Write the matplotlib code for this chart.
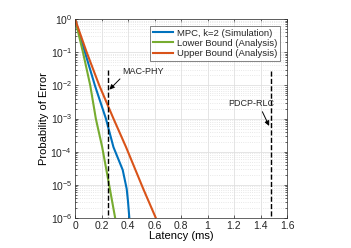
import numpy as np
import matplotlib
matplotlib.use("Agg")
import matplotlib.pyplot as plt
from matplotlib.ticker import LogLocator, NullFormatter

plt.rcParams['font.family'] = ['Liberation Sans', 'DejaVu Sans']
plt.rcParams['mathtext.fontset'] = 'custom'
plt.rcParams['mathtext.rm'] = 'Liberation Sans'
plt.rcParams['mathtext.it'] = 'Liberation Sans:italic'
plt.rcParams['text.color'] = '#262626'

# decades below 1 (probability = 10**-dec) and latency
mpc_dec = [0, 1, 2, 3, 3.86, 4.55, 5.12, 5.5, 6]
mpc_lat = [0, 0.075, 0.15, 0.233, 0.29, 0.36, 0.39, 0.40, 0.41]
low_dec = [0, 1, 2, 3, 3.86, 5.12, 6]
low_lat = [0, 0.06, 0.115, 0.157, 0.205, 0.263, 0.303]
up_dec = [0, 1, 2, 3, 3.86, 5.12, 6]
up_lat = [0, 0.088, 0.183, 0.29, 0.385, 0.515, 0.61]

mac_phy = 0.25
pdcp_rlc = 1.48

blue = '#0072BD'
red = '#D95319'
green = '#77AC30'

fig = plt.figure(figsize=(3.51, 2.48), dpi=100)
ax = fig.add_axes([0.2137, 0.121, 0.604, 0.802])

ax.semilogy(mpc_lat, 10.0 ** -np.array(mpc_dec), color=blue, lw=1.5, label='MPC, k=2 (Simulation)')
ax.semilogy(low_lat, 10.0 ** -np.array(low_dec), color=green, lw=1.5, label='Lower Bound (Analysis)')
ax.semilogy(up_lat, 10.0 ** -np.array(up_dec), color=red, lw=1.5, label='Upper Bound (Analysis)')

ax.plot([mac_phy, mac_phy], [3e-2, 1e-6], 'k--', lw=1)
ax.plot([pdcp_rlc, pdcp_rlc], [2.7e-2, 1e-6], 'k--', lw=1)

ax.annotate('MAC-PHY', xy=(0.26, 7.5e-3), xytext=(0.36, 2.6e-2), fontsize=6.5,
            va='center', ha='left',
            arrowprops=dict(arrowstyle='-|>', color='k', lw=0.7, mutation_scale=7,
                            shrinkA=0, shrinkB=0, relpos=(0, 0)))
ax.annotate('PDCP-RLC', xy=(1.465, 6e-4), xytext=(1.33, 2.9e-3), fontsize=6.5,
            va='center', ha='center',
            arrowprops=dict(arrowstyle='-|>', color='k', lw=0.7, mutation_scale=7,
                            shrinkA=1, shrinkB=0, relpos=(0.7, 0)))

ax.set_xlim(0, 1.6)
ax.set_ylim(1e-6, 1)
ax.set_xticks(np.arange(0, 1.61, 0.2))
ax.set_xticklabels(['0', '0.2', '0.4', '0.6', '0.8', '1', '1.2', '1.4', '1.6'])
ax.yaxis.set_major_locator(LogLocator(base=10, numticks=10))
ax.yaxis.set_minor_locator(LogLocator(base=10, subs=np.arange(2, 10), numticks=20))
ax.yaxis.set_minor_formatter(NullFormatter())

ax.grid(True, which='major', color='#e0e0e0', lw=0.6)
ax.grid(True, which='minor', axis='y', color='#e0e0e0', lw=0.6, ls=':')
ax.set_axisbelow(True)

ax.tick_params(which='both', direction='in', top=True, right=True, labelsize=7.5,
               color='#262626', labelcolor='#262626', length=2.5, width=0.5, pad=2)
ax.tick_params(which='minor', length=1.5)
for s in ax.spines.values():
    s.set_linewidth(0.5)
    s.set_color('#262626')

ax.set_xlabel('Latency (ms)', fontsize=8, labelpad=0.5)
ax.set_ylabel('Probability of Error', fontsize=8, labelpad=1)

leg = ax.legend(loc='upper right', fontsize=6.8, frameon=True, fancybox=False,
                edgecolor='#262626', borderpad=0.3, handlelength=2.2, handletextpad=0.4,
                labelspacing=0.12, borderaxespad=0.7)
leg.get_frame().set_linewidth(0.5)

fig.savefig('out.png', dpi=100)
